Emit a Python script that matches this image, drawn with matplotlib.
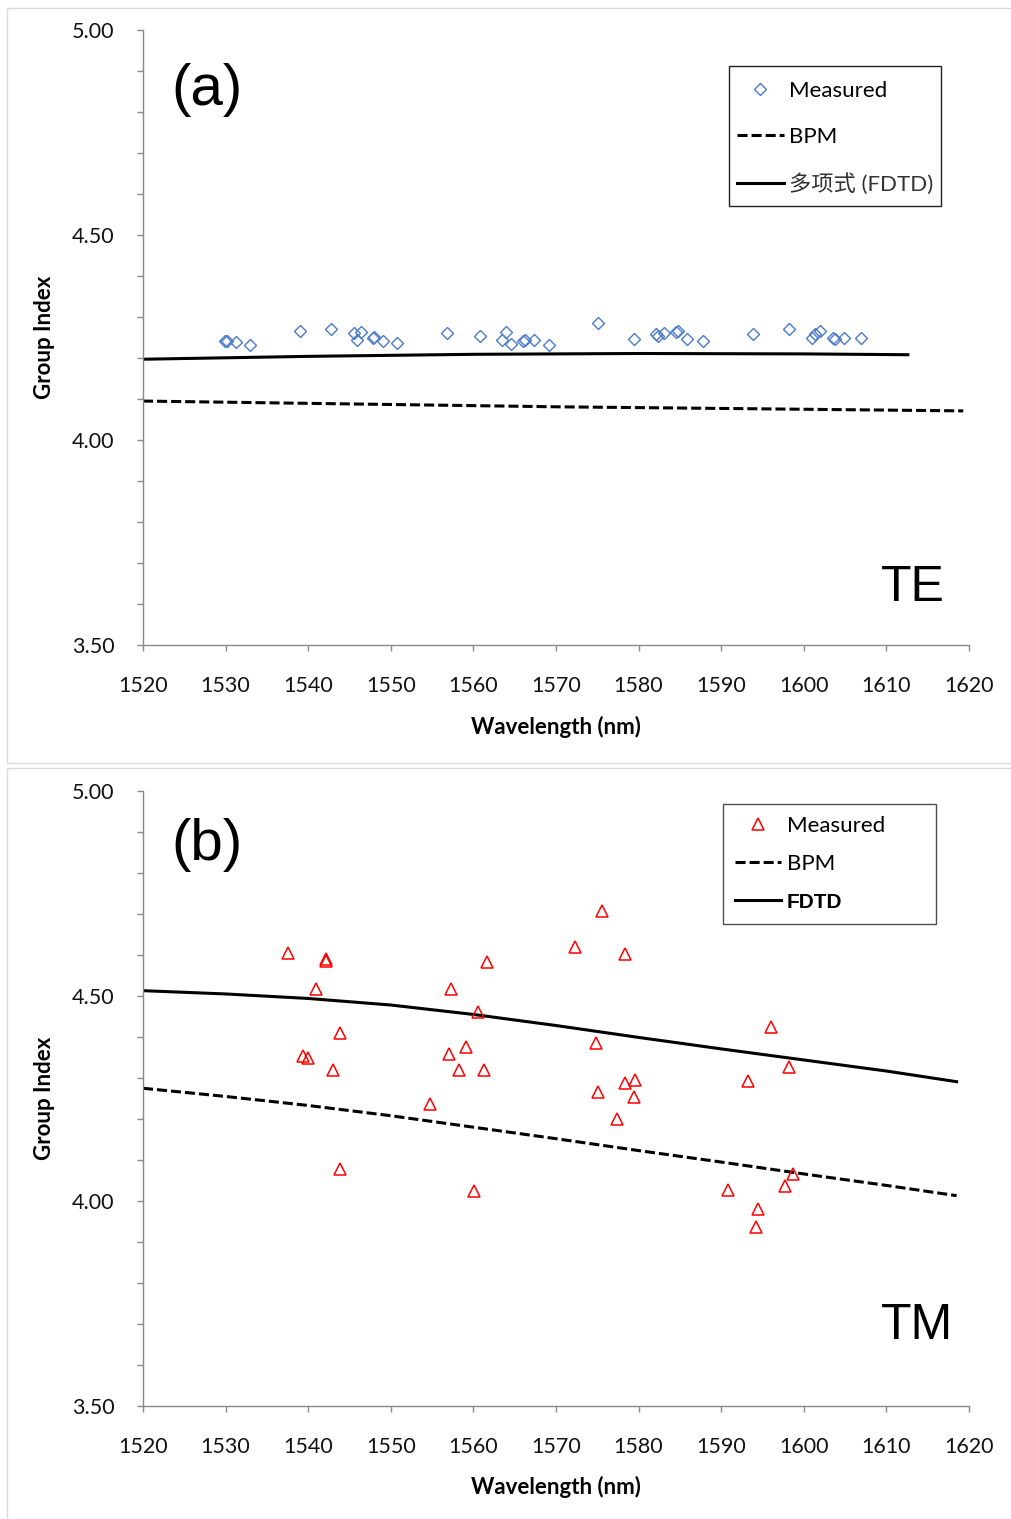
import numpy as np
import matplotlib
matplotlib.use('Agg')
import matplotlib.pyplot as plt
from matplotlib.patches import Rectangle

plt.rcParams['font.family'] = ['Lato', 'Noto Sans CJK SC', 'DejaVu Sans']

#%% data
# (a) TE
te_wl = [1529.9, 1530.2, 1531.2, 1532.9, 1539.0, 1542.8, 1545.5, 1545.9, 1546.4, 1547.8,
         1548.0, 1549.0, 1550.7, 1556.8, 1560.8, 1563.5, 1564.0, 1564.5, 1566.0, 1566.2,
         1567.3, 1569.1, 1575.1, 1579.4, 1582.1, 1582.4, 1583.1, 1584.5, 1584.8, 1585.8,
         1587.8, 1593.8, 1598.2, 1601.0, 1601.4, 1602.0, 1603.5, 1603.8, 1604.9, 1606.9]
te_ng = [4.242, 4.242, 4.239, 4.232, 4.265, 4.270, 4.262, 4.243, 4.264, 4.248,
         4.251, 4.241, 4.236, 4.261, 4.253, 4.243, 4.263, 4.235, 4.242, 4.245,
         4.243, 4.232, 4.286, 4.246, 4.259, 4.254, 4.261, 4.263, 4.267, 4.246,
         4.242, 4.259, 4.271, 4.248, 4.258, 4.267, 4.248, 4.246, 4.249, 4.248]
te_fdtd_wl = [1520, 1540, 1560, 1580, 1600, 1612.6]
te_fdtd = [4.197, 4.204, 4.209, 4.211, 4.210, 4.208]
te_bpm_wl = [1520, 1545, 1570, 1595, 1619.3]
te_bpm = [4.095, 4.088, 4.081, 4.076, 4.071]

# (b) TM
tm_wl = [1537.5, 1542.1, 1542.2, 1540.9, 1543.8, 1539.4, 1540.0, 1543.0, 1543.8, 1561.6,
         1557.3, 1560.5, 1559.1, 1557.1, 1558.2, 1561.3, 1554.7, 1560.1, 1575.6, 1572.3,
         1578.4, 1596.0, 1574.9, 1598.2, 1593.3, 1578.4, 1579.6, 1575.1, 1579.4, 1577.4,
         1598.7, 1597.7, 1590.8, 1594.5, 1594.2]
tm_ng = [4.604, 4.586, 4.590, 4.517, 4.409, 4.354, 4.350, 4.320, 4.077, 4.582,
         4.517, 4.462, 4.375, 4.358, 4.319, 4.319, 4.237, 4.024, 4.708, 4.620,
         4.602, 4.424, 4.385, 4.326, 4.293, 4.287, 4.295, 4.266, 4.253, 4.201,
         4.065, 4.037, 4.026, 3.981, 3.937]
tm_fdtd_wl = [1520, 1530, 1540, 1550, 1560, 1570, 1580, 1590, 1600, 1610, 1618.5]
tm_fdtd = [4.513, 4.505, 4.494, 4.478, 4.455, 4.428, 4.399, 4.371, 4.344, 4.317, 4.291]
tm_bpm_wl = [1520, 1530, 1540, 1550, 1560, 1570, 1580, 1590, 1600, 1610, 1618.5]
tm_bpm = [4.275, 4.255, 4.233, 4.208, 4.180, 4.152, 4.123, 4.095, 4.066, 4.038, 4.013]

xticks = np.arange(1520, 1621, 10)
yticks = [3.50, 4.00, 4.50, 5.00]

W, H = 1012, 1519
fx = lambda px: px / W
fy = lambda py: 1 - py / H

fig = plt.figure(figsize=(W / 100, H / 100), dpi=100)

# light grey frames around each chart
fig.patches.append(Rectangle((fx(7.5), fy(762.5)), 1.0, fy(7.5) - fy(762.5), transform=fig.transFigure,
                             fill=False, edgecolor='#d9d9d9', lw=1.0))
fig.patches.append(Rectangle((fx(7.5), -0.01), 1.0, fy(767.5) + 0.01, transform=fig.transFigure,
                             fill=False, edgecolor='#d9d9d9', lw=1.0))

spine_c = '#898989'


def style_axes(ax):
    ax.set_xlim(1520, 1620)
    ax.set_ylim(3.5, 5.0)
    ax.set_xticks(xticks)
    ax.set_yticks(yticks)
    ax.set_yticks(np.arange(3.5, 5.01, 0.1), minor=True)
    ax.set_yticklabels(['%.2f' % v for v in yticks])
    for s in ['top', 'right']:
        ax.spines[s].set_visible(False)
    for s in ['left', 'bottom']:
        ax.spines[s].set_color(spine_c)
        ax.spines[s].set_linewidth(1.0)
    ax.tick_params(axis='both', which='both', direction='out', color=spine_c, width=1.0,
                   length=4.5, labelsize=15.5, labelcolor='#111111')
    ax.tick_params(axis='y', which='major', pad=16)
    ax.tick_params(axis='x', which='major', pad=18)


# ---------------- (a) TE
ax1 = fig.add_axes([fx(143), fy(645), (969 - 143) / W, 615 / H])
style_axes(ax1)
ax1.plot(te_wl, te_ng, 'D', markersize=6.5, markerfacecolor='none', markeredgecolor='#4a7ac8',
         markeredgewidth=1.0, label='Measured', zorder=5)
ax1.plot(te_bpm_wl, te_bpm, color='black', lw=2.2, dashes=(3.3, 1.3), label='BPM')
ax1.plot(te_fdtd_wl, te_fdtd, color='black', lw=2.2, label='多项式 (FDTD)')
# legend without frame, the box is drawn separately
leg1 = ax1.legend(loc='upper left', bbox_to_anchor=((737 - 143) / 826, (645 - 81) / 615),
                  fontsize=16, frameon=False, borderaxespad=0, borderpad=0,
                  handlelength=2.1, handletextpad=0.25, labelspacing=1.18)
leg1.get_texts()[2].set_color('#333333')
fig.patches.append(Rectangle((fx(729), fy(206)), (941 - 729) / W, 140 / H, transform=fig.transFigure,
                             fill=False, edgecolor='#222222', lw=1.0))

fig.text(fx(207), fy(90), '(a)', fontsize=42, family='Liberation Sans', ha='center', va='center')
fig.text(fx(913), fy(588), 'TE', fontsize=36, family='Liberation Sans', ha='center', va='center')
fig.text(fx(556), fy(727), 'Wavelength (nm)', fontsize=16, fontweight='bold', ha='center', va='center')
fig.text(fx(45), fy(337.5), 'Group Index', fontsize=16, fontweight='bold', rotation=90, ha='center', va='center')

# ---------------- (b) TM
ax2 = fig.add_axes([fx(143), fy(1406), (969 - 143) / W, 615 / H])
style_axes(ax2)
ax2.plot(tm_wl, tm_ng, '^', markersize=9, markerfacecolor='none', markeredgecolor='#ff0000',
         markeredgewidth=1.1, label='Measured', zorder=5)
ax2.plot(tm_bpm_wl, tm_bpm, color='black', lw=2.2, dashes=(3.3, 1.3), label='BPM')
ax2.plot(tm_fdtd_wl, tm_fdtd, color='black', lw=2.2, label='FDTD')
leg2 = ax2.legend(loc='upper left', bbox_to_anchor=((723 - 143) / 826, (1406 - 924) / 615, 213 / 826, 120 / 615),
                  mode='expand', fontsize=16, frameon=True, fancybox=False, borderaxespad=0,
                  handlelength=2.1, handletextpad=0.25, labelspacing=0.83, borderpad=0.53)
leg2.get_frame().set_edgecolor('#222222')
leg2.get_frame().set_linewidth(1.0)
leg2.get_texts()[2].set_fontweight('bold')
leg2.get_texts()[2].set_fontfamily('Liberation Sans')
leg2.get_texts()[2].set_fontsize(15)

fig.text(fx(207), fy(845), '(b)', fontsize=42, family='Liberation Sans', ha='center', va='center')
fig.text(fx(917), fy(1326), 'TM', fontsize=36, family='Liberation Sans', ha='center', va='center')
fig.text(fx(556), fy(1487), 'Wavelength (nm)', fontsize=16, fontweight='bold', ha='center', va='center')
fig.text(fx(45), fy(1098.5), 'Group Index', fontsize=16, fontweight='bold', rotation=90, ha='center', va='center')

fig.savefig('out.png', dpi=100)
